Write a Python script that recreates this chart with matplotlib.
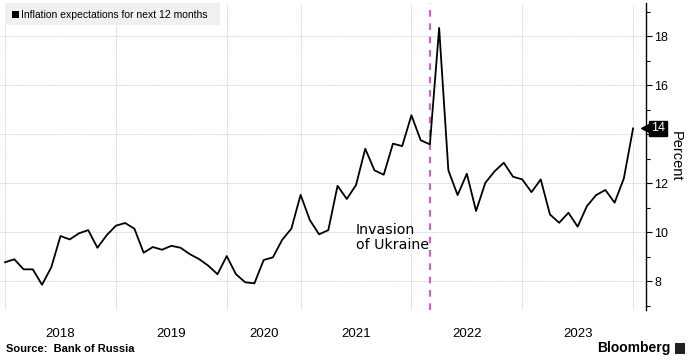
import numpy as np
import matplotlib
matplotlib.use("Agg")
from matplotlib import pyplot as plt
from matplotlib.patches import Rectangle

# monthly survey values (2020 has only 8 readings)
values = [8.78, 8.90, 8.49, 8.49, 7.86, 8.57, 9.85, 9.71, 9.96, 10.09, 9.37, 9.88,
          10.27, 10.38, 10.15, 9.17, 9.40, 9.29, 9.45, 9.37, 9.11, 8.91, 8.64, 8.29,
          9.03, 8.29, 7.96, 7.92, 8.87, 8.98, 9.69, 10.15,
          11.53, 10.50, 9.92, 10.09, 11.90, 11.36, 11.93, 13.41, 12.53, 12.35, 13.62, 13.52,
          14.78, 13.76, 13.59, 18.34, 12.53, 11.52, 12.39, 10.87, 12.02, 12.49, 12.84, 12.27,
          12.16, 11.64, 12.16, 10.73, 10.39, 10.80, 10.23, 11.07, 11.52, 11.73, 11.21, 12.20,
          14.24]
year_labels = ["2018", "2019", "2020", "2021", "2022", "2023"]
year_starts = [0, 12, 24, 32, 44, 56, 68]
invasion_idx = 46
last_value = 14

plt.rcParams['font.family'] = ['Liberation Sans', 'DejaVu Sans']

W, H = 691, 361
fig = plt.figure(figsize=(W / 100, H / 100), dpi=100)
ax = fig.add_axes([0.0, 1 - 310 / H, 646 / W, 307 / H])

x = np.arange(len(values))
ax.plot(x, values, color="black", linewidth=1.3, zorder=3)

ax.set_xlim(-0.55, 69.4)
ax.set_ylim(6.83, 19.36)

# grid
for v in range(8, 19, 2):
    ax.axhline(v, color="#cccccc", linestyle=(0, (1, 1)), linewidth=0.7, zorder=1)
for s in year_starts:
    ax.axvline(s, color="#cccccc", linestyle=(0, (1, 1)), linewidth=0.7, zorder=1)

ax.axvline(invasion_idx, color="#cc66c0", linestyle=(0, (3, 3)), linewidth=1.6, zorder=2)
ax.text(invasion_idx - 8.05, 9.8, "Invasion\nof Ukraine", ha="left", va="center",
        multialignment="left", fontsize=10.2, family="DejaVu Sans", linespacing=1.1)

# axes styling
for side in ["left", "top", "bottom"]:
    ax.spines[side].set_visible(False)
ax.spines["right"].set_linewidth(1.0)
ax.yaxis.tick_right()
yt = list(range(8, 19, 2))
ax.set_yticks(yt)
ax.set_yticklabels(["" if t == last_value else str(t) for t in yt])
ax.set_yticks(range(7, 20, 2), minor=True)
ax.tick_params(axis="y", which="major", length=4, width=0.8, labelsize=9, pad=2)
ax.tick_params(axis="y", which="minor", length=3, width=0.8)

mids = [(year_starts[i] + year_starts[i + 1]) / 2 for i in range(len(year_labels))]
ax.set_xticks(mids)
ax.set_xticklabels(year_labels)
ax.tick_params(axis="x", length=0, labelsize=9.5, pad=13)

ax.yaxis.set_label_position("right")
ax.set_ylabel("Percent", rotation=-90, fontsize=10.5, va="bottom")
ax.yaxis.set_label_coords(1.035, 0.5)

# last value tag
ax.plot([69.4], [values[-1]], marker="<", color="black", markersize=7, clip_on=False, zorder=5)
ax.text(1.0 + 5 / 646, values[-1], str(last_value), transform=ax.get_yaxis_transform(),
        color="white", fontsize=9, ha="left", va="center", zorder=6, clip_on=False,
        bbox=dict(boxstyle="square,pad=0.15", facecolor="black", edgecolor="black"))

# legend box
fig.patches.append(Rectangle((5 / W, 1 - 25 / H), 215 / W, 22 / H, transform=fig.transFigure,
                             facecolor="#f0f0f0", edgecolor="none", zorder=4))
fig.patches.append(Rectangle((12 / W, 1 - 18 / H), 7 / W, 7 / H, transform=fig.transFigure,
                             facecolor="black", edgecolor="none", zorder=5))
fig.text(21 / W, 1 - 14.5 / H, "Inflation expectations for next 12 months",
         fontsize=7.5, ha="left", va="center", zorder=6)

fig.text(6 / W, 1 - 349 / H, "Source:  Bank of Russia", fontsize=8, fontweight="bold",
         ha="left", va="center")
fig.text(670 / W, 1 - 348 / H, "Bloomberg", fontsize=10, fontweight="bold",
         ha="right", va="center")
fig.patches.append(Rectangle((675 / W, 1 - 354 / H), 10 / W, 11 / H, transform=fig.transFigure,
                             facecolor="#222222", edgecolor="none"))

fig.savefig("out.png", dpi=100)
